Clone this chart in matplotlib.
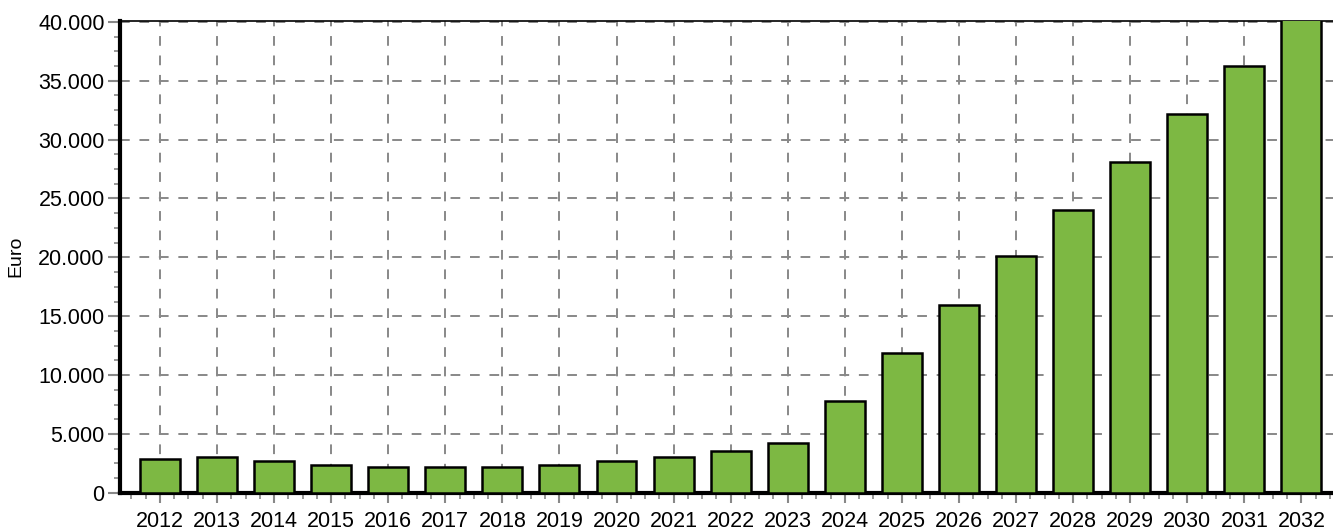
import matplotlib
matplotlib.use('Agg')
import matplotlib.pyplot as plt
from matplotlib.ticker import MultipleLocator, FuncFormatter

plt.rcParams['font.family'] = ['Liberation Sans', 'DejaVu Sans']

# Werte
years = list(range(2012, 2033))
euro = [2880, 3050, 2730, 2360, 2180, 2160, 2160, 2330, 2680, 3030, 3550,
        4250, 7820, 11860, 15930, 20140, 24040, 28140, 32200, 36270, 40300]

fig = plt.figure(figsize=(13.33, 5.30), dpi=100)
ax = fig.add_axes([0.090, 0.070, 0.912, 0.891])

ax.bar(years, euro, width=0.7, color='#7db843', edgecolor='black', linewidth=1.8, zorder=3)

ax.set_xlim(2011.3, 2032.6)
ax.set_ylim(0, 40100)

ax.xaxis.set_major_locator(MultipleLocator(1))
ax.xaxis.set_minor_locator(MultipleLocator(0.25))
ax.yaxis.set_major_locator(MultipleLocator(5000))
ax.yaxis.set_minor_locator(MultipleLocator(1250))
ax.yaxis.set_major_formatter(FuncFormatter(lambda v, p: f"{int(v):,}".replace(',', '.')))

ax.grid(True, which='major', color='#888888', linestyle=(0, (5, 5)), linewidth=1.4, zorder=0)

ax.tick_params(axis='both', which='major', labelsize=15.5, color='#888888', width=1.5, direction='out')
ax.tick_params(axis='y', which='major', length=9, pad=2)
ax.tick_params(axis='x', which='major', length=7, pad=6)
ax.tick_params(axis='both', which='minor', color='#888888', width=1.2, length=4)

ax.spines['right'].set_visible(False)
ax.spines['left'].set_linewidth(3)
ax.spines['bottom'].set_linewidth(3)
ax.spines['top'].set_linewidth(1.2)

ax.set_ylabel('Euro', fontsize=14, labelpad=10)

fig.savefig('out.png', dpi=100)
